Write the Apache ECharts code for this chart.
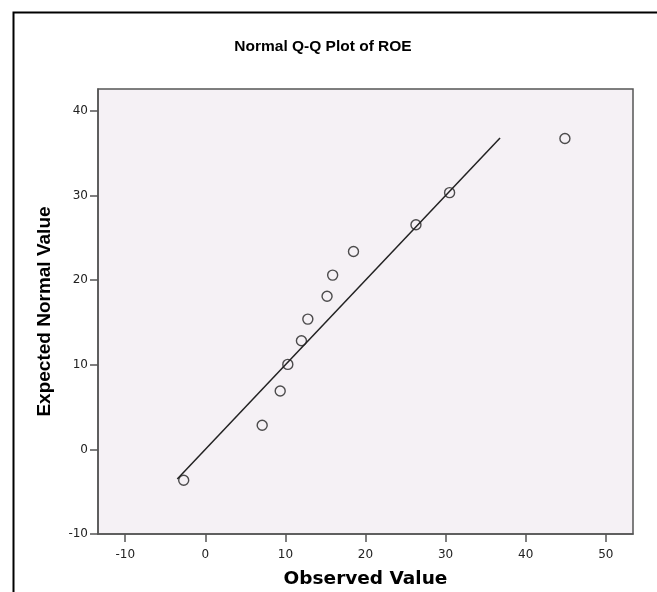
<!DOCTYPE html>
<html>
<head>
<meta charset="utf-8">
<script src="https://cdn.jsdelivr.net/npm/echarts@6/dist/echarts.min.js"></script>
<style>html,body{margin:0;padding:0;background:#fff}#c{width:657px;height:592px}</style>
</head>
<body>
<div id="c"></div>
<script>
const observed = [-2.7, 7.1, 9.35, 10.3, 12.0, 12.8, 15.2, 15.9, 18.5, 26.3, 30.5, 44.9];
const expected = [-3.65, 2.85, 6.9, 10.05, 12.85, 15.4, 18.1, 20.6, 23.4, 26.55, 30.35, 36.75];
// Reference line y = x, drawn between these ends
const lineEnds = [-3.5, 36.8];
const xTicks = [-10, 0, 10, 20, 30, 40, 50];
const yTicks = [-10, 0, 10, 20, 30, 40];
const titleText = 'Normal Q-Q Plot of ROE';
const xName = 'Observed Value';
const yName = 'Expected Normal Value';

const chart = echarts.init(document.getElementById('c'), null, {renderer: 'canvas'});
const pts = observed.map((v, i) => [v, expected[i]]);
const lineData = lineEnds.map(v => [v, v]);
const tickFont = {color: '#222', fontSize: 12, fontFamily: 'DejaVu Sans'};

chart.setOption({
  animation: false,
  backgroundColor: '#fff',
  title: {
    text: titleText, left: 318, top: 34, textAlign: 'center',
    textStyle: {fontFamily: 'Liberation Sans', fontWeight: 'bold', fontSize: 15.5, color: '#000'}
  },
  graphic: [{
    type: 'rect', left: 11, top: 10, silent: true,
    shape: {width: 700, height: 700},
    style: {fill: null, stroke: '#000', lineWidth: 2}
  }],
  grid: {left: 98, top: 89, width: 535, height: 445, show: true,
    outerBoundsMode: 'none', containLabel: false,
    backgroundColor: '#f5f1f5', borderColor: '#555', borderWidth: 1.5},
  xAxis: {
    type: 'value', min: -13.4, max: 53.4,
    name: xName, nameLocation: 'middle', nameGap: 36,
    nameTextStyle: {fontFamily: 'DejaVu Sans', fontWeight: 'bold', fontSize: 18.5, color: '#000'},
    axisLine: {show: true, onZero: false, lineStyle: {color: '#555', width: 1.5}},
    axisTick: {show: true, length: 8, customValues: xTicks, lineStyle: {color: '#555', width: 1.5}},
    axisLabel: Object.assign({margin: 15, customValues: xTicks}, tickFont),
    splitLine: {show: false}
  },
  yAxis: {
    type: 'value', min: -10, max: 42.6,
    name: yName, nameLocation: 'middle', nameGap: 44, nameRotate: 90,
    nameTextStyle: {fontFamily: 'Liberation Sans', fontWeight: 'bold', fontSize: 19, color: '#000'},
    axisLine: {show: true, onZero: false, lineStyle: {color: '#555', width: 1.5}},
    axisTick: {show: true, length: 8, customValues: yTicks, lineStyle: {color: '#555', width: 1.5}},
    axisLabel: Object.assign({margin: 10, customValues: yTicks}, tickFont),
    splitLine: {show: false}
  },
  series: [{
    type: 'line', data: lineData, symbol: 'none', silent: true,
    lineStyle: {color: '#222', width: 1.5}, z: 2
  }, {
    type: 'scatter', data: pts, symbol: 'circle', symbolSize: 10,
    itemStyle: {color: 'rgba(0,0,0,0)', borderColor: '#222', borderWidth: 1.4}, z: 3
  }]
});
</script>
</body>
</html>
